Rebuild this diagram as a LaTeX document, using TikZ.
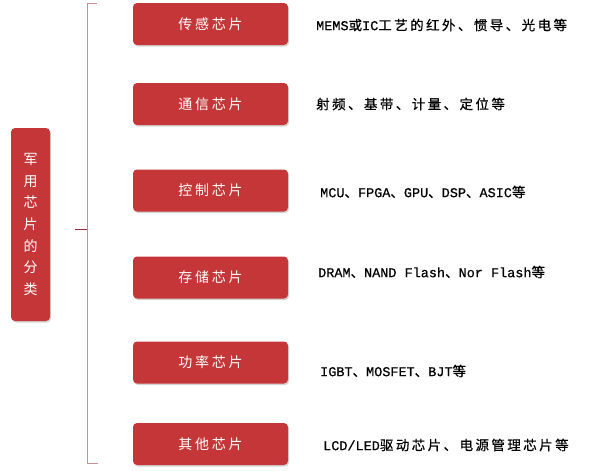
\documentclass[tikz,border=0pt]{standalone}
\usepackage{fontspec}
\usetikzlibrary{shadows}

\newfontfamily\boxfont[LetterSpace=20]{Noto Sans CJK SC}
\newfontfamily\descfont[LetterSpace=18,FakeBold=0.6]{Noto Sans CJK SC}
\newfontfamily\latfont[FakeBold=0.6]{Liberation Mono}
\newcommand\lat[1]{{\latfont #1}}

\definecolor{boxred}{RGB}{197,54,56}
\definecolor{bracketred}{RGB}{205,140,152}
\definecolor{tickred}{RGB}{150,40,60}

\begin{document}
\begin{tikzpicture}
    [x=1pt,y=-1pt,
     catbox/.style={rectangle,rounded corners=4pt,fill=boxred,text=white,
       minimum width=155pt,minimum height=42pt,inner sep=0pt,
       font=\boxfont\fontsize{14}{16}\selectfont,
       drop shadow={opacity=0.35,shadow xshift=1pt,shadow yshift=-1.5pt}},
     rootbox/.style={catbox,minimum width=39pt,minimum height=193pt,align=center,
       font=\boxfont\fontsize{14}{21.7}\selectfont},
     desc/.style={anchor=west,inner sep=0pt,text=black,
       font=\descfont\fontsize{13.5}{16}\selectfont},
     bracket/.style={draw=bracketred,line width=1pt}]
    \useasboundingbox (0,0) rectangle (592,471);

    \node[rootbox] (root) at (30.5,224.5) {军\\用\\芯\\片\\的\\分\\类};

    \coordinate (brT) at (97,3);
    \coordinate (brTc) at (87,3);
    \coordinate (brBc) at (87,463);
    \coordinate (brB) at (98,463);
    \coordinate (brM) at (75,229);
    \coordinate (brMc) at (87,229);
    \draw[bracket] (brT) -- (brTc) -- (brBc) -- (brB);
    \draw[bracket,draw=tickred] (brM) -- (brMc);

    \node[catbox] (c1) at (210.5,24) {传感芯片};
    \node[catbox] (c2) at (210.5,104) {通信芯片};
    \node[catbox] (c3) at (210.5,190.5) {控制芯片};
    \node[catbox] (c4) at (210.5,277.5) {存储芯片};
    \node[catbox] (c5) at (210.5,362.5) {功率芯片};
    \node[catbox] (c6) at (210.5,444) {其他芯片};

    \node[desc] (d1) at (316,25) {\lat{MEMS}或\lat{IC}工艺的红外、惯导、光电等};
    \node[desc] (d2) at (316,104) {射频、基带、计量、定位等};
    \node[desc] (d3) at (320,192) {\lat{MCU}、\lat{FPGA}、\lat{GPU}、\lat{DSP}、\lat{ASIC}等};
    \node[desc] (d4) at (318,272) {\lat{DRAM}、\lat{NAND Flash}、\lat{Nor Flash}等};
    \node[desc] (d5) at (320,371) {\lat{IGBT}、\lat{MOSFET}、\lat{BJT}等};
    \node[desc] (d6) at (323,445) {\lat{LCD/LED}驱动芯片、电源管理芯片等};
\end{tikzpicture}
\end{document}
